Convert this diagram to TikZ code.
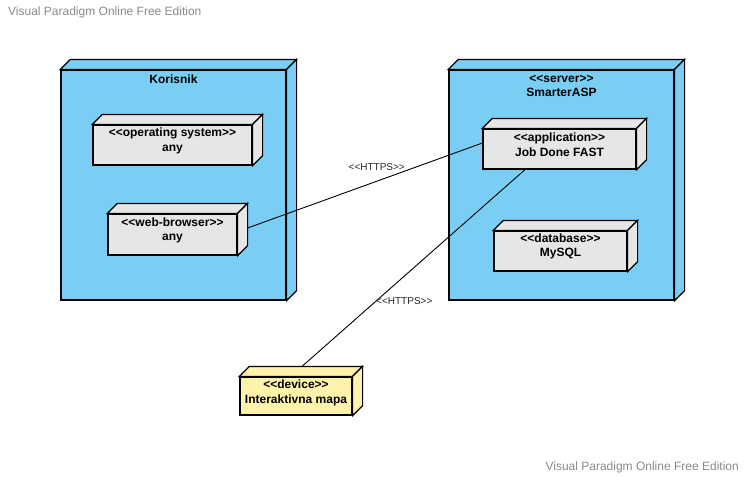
\documentclass[tikz,border=0pt]{standalone}
\usepackage{fontspec}
\setmainfont{Liberation Sans}
\usetikzlibrary{calc}
\definecolor{nodeblue}{HTML}{7ACEF4}
\definecolor{boxgray}{HTML}{E6E6E6}
\definecolor{devyellow}{HTML}{FFF2AB}
\definecolor{wmgray}{HTML}{8A8A8A}
\newcommand\stOpen{<\kern0pt<}
\newcommand\stClose{>\kern0pt>}
\tikzset{
  face/.style={draw=black, line width=1.2pt, line join=miter, inner sep=0pt},
  txt/.style={font=\fontsize{12}{14.5}\selectfont\bfseries, align=center, inner sep=0pt},
  conn/.style={draw=black, line width=0.9pt},
  clabel/.style={font=\fontsize{10}{12}\selectfont, text=black!85, inner sep=0pt},
  wmark/.style={font=\fontsize{12}{14}\selectfont, text=wmgray, inner sep=0pt}
}
% #1 name, #2 left, #3 top, #4 right, #5 bottom, #6 fill colour
\newcommand\ddbox[6]{%
  \node[face, fill=#6, minimum width=#4pt-#2pt, minimum height=#5pt-#3pt] (#1) at ({(#2+#4)/2},{(#3+#5)/2}) {};
  \filldraw[face, fill=#6] (#1.north west) -- ++(10,-10) -- ([shift={(10,-10)}]#1.north east) -- (#1.north east) -- cycle;
  \filldraw[face, fill=#6] (#1.north east) -- ++(10,-10) -- ([shift={(10,-10)}]#1.south east) -- (#1.south east) -- cycle;
}
\begin{document}
\begin{tikzpicture}[x=1pt, y=-1pt]
  \useasboundingbox[fill=white] (0,0) rectangle (745,477);
  % watermarks
  \node[wmark, anchor=west] (wm1) at (8,12) {Visual Paradigm Online Free Edition};
  \node[wmark, anchor=east] (wm2) at (739,467) {Visual Paradigm Online Free Edition};
  % outer nodes
  \ddbox{kor}{61}{70}{286}{300}{nodeblue}
  \node[txt] (korT) at (173.5,79) {Korisnik};
  \ddbox{srv}{449}{70}{674}{300}{nodeblue}
  \node[txt] (srvT) at (561.5,86) {\stOpen server\stClose\\SmarterASP};
  % inner boxes
  \ddbox{os}{93}{125}{252}{165}{boxgray}
  \node[txt] (osT) at (172.5,141) {\stOpen operating system\stClose\\any};
  \ddbox{wb}{108}{214}{237}{255}{boxgray}
  \node[txt] (wbT) at (172.5,230.5) {\stOpen web-browser\stClose\\any};
  \ddbox{app}{483}{129}{636}{169}{boxgray}
  \node[txt] (appT) at (559.5,144.5) {\stOpen application\stClose\\Job Done FAST};
  \ddbox{db}{494}{231}{627}{271}{boxgray}
  \node[txt] (dbT) at (560.5,246.5) {\stOpen database\stClose\\MySQL};
  \ddbox{dev}{240}{377}{352}{415}{devyellow}
  \node[txt] (devT) at (296,393) {\stOpen device\stClose\\Interaktivna mapa};
  % connectors
  \draw[conn] ([xshift=10pt,yshift=6.5pt]wb.east) -- ([yshift=6pt]app.west)
    node[clabel, pos=0.55, yshift=14pt] (l1) {\stOpen HTTPS\stClose};
  \draw[conn] ([xshift=-34.5pt]app.south) -- ([xshift=6pt,yshift=10pt]dev.north)
    node[clabel, pos=0.667, anchor=west, xshift=-0.5pt] (l2) {\stOpen HTTPS\stClose};
\end{tikzpicture}
\end{document}
